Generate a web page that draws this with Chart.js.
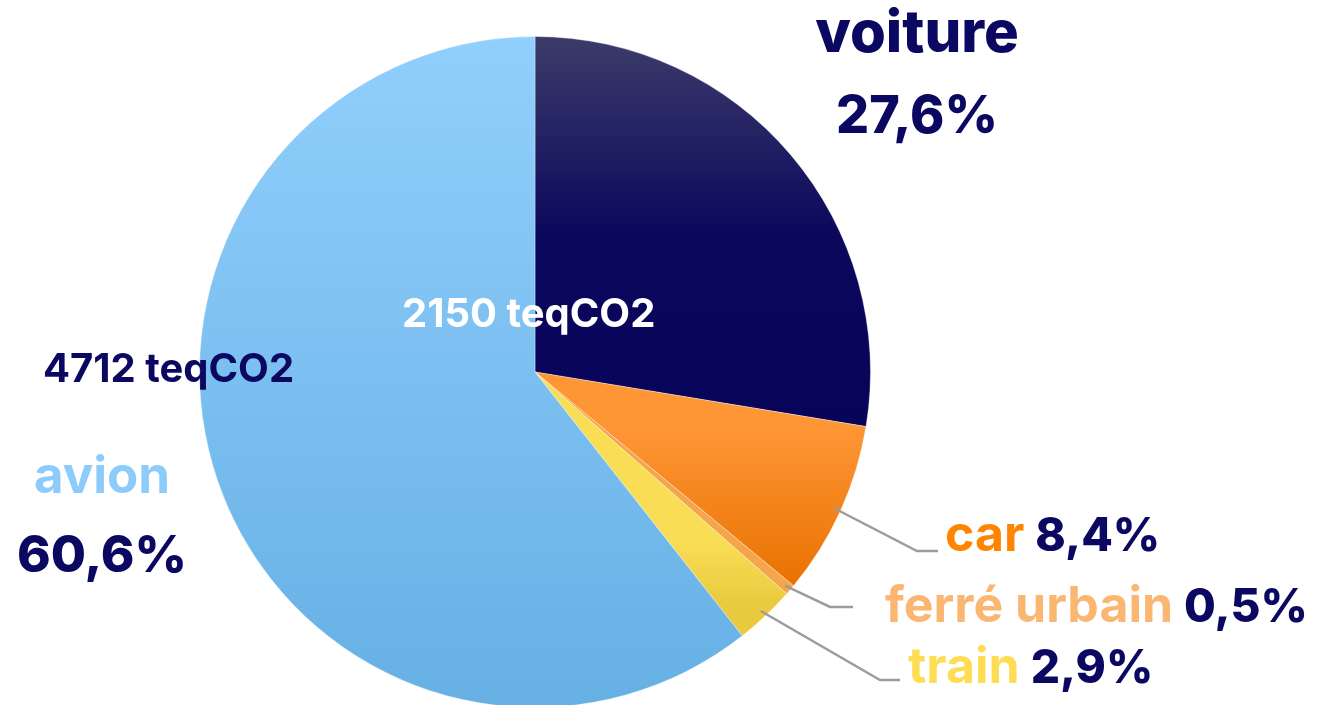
<!DOCTYPE html>
<html>
<head>
<meta charset="utf-8">
<script src="https://cdn.jsdelivr.net/npm/chart.js@4/dist/chart.umd.min.js"></script>
<style>
  html, body { margin: 0; padding: 0; background: #fff; overflow: hidden; }
  #wrap { width: 1317px; height: 720px; }
</style>
</head>
<body>
<div id="wrap"><canvas id="pie" width="1317" height="720"></canvas></div>
<script>
// Données : part des émissions par mode de transport
const categories = ['voiture', 'car', 'ferré urbain', 'train', 'avion'];
const shares = [27.6, 8.4, 0.5, 2.9, 60.6];
const shareLabels = ['27,6%', '8,4%', '0,5%', '2,9%', '60,6%'];
const emissions = [2150, null, null, null, 4712];

const navy = '#0a0860';
const FONT = 'Inter, "Open Sans", sans-serif';

// dégradés verticaux par part (positions relatives à la zone du graphique)
const gradStops = [
    [[0, '#3c3c6a'], [0.3, '#0a075c'], [1, '#020058']],
    [[0.58, '#ff9636'], [0.82, '#e87200']],
    [[0, '#f5a54c'], [1, '#f5a54c']],
    [[0.75, '#f9dd55'], [0.85, '#e9ca3e']],
    [[0, '#91cffd'], [1, '#66b0e4']]
];

function sliceColor(ctx) {
    const area = ctx.chart.chartArea;
    if (!area) return '#ccc';
    const g = ctx.chart.ctx.createLinearGradient(0, area.top, 0, area.bottom);
    gradStops[ctx.dataIndex].forEach(s => g.addColorStop(s[0], s[1]));
    return g;
}

// Étiquettes et lignes de rappel
const labelPlugin = {
    id: 'labels',
    afterDatasetsDraw(chart) {
        const c = chart.ctx;
        const arcs = chart.getDatasetMeta(0).data;
        c.save();
        c.textBaseline = 'alphabetic';

        // voiture
        c.textAlign = 'center';
        c.fillStyle = navy;
        c.font = '800 58px ' + FONT;
        c.fillText(categories[0], 917, 52);
        c.font = '800 52px ' + FONT;
        c.fillText(shareLabels[0], 917, 133);

        // avion
        c.fillStyle = '#8ccbfa';
        c.font = '700 51px ' + FONT;
        c.fillText(categories[4], 102, 493);
        c.fillStyle = navy;
        c.font = '800 51px ' + FONT;
        c.fillText(shareLabels[4], 102, 572);

        // valeurs en teqCO2
        c.font = '700 40px ' + FONT;
        c.textAlign = 'left';
        c.fillStyle = '#ffffff';
        c.fillText(emissions[0] + ' teqCO2', 402, 327);
        c.fillStyle = navy;
        c.fillText(emissions[4] + ' teqCO2', 43, 382);

        // petites parts avec lignes de rappel
        const small = [
            { i: 1, elbow: [917, 551], end: 938, tx: 945, ty: 551, color: '#ff8400' },
            { i: 2, elbow: [830, 607], end: 853, tx: 885, ty: 622, color: '#fbb672' },
            { i: 3, elbow: [880, 680], end: 900, tx: 908, ty: 683, color: '#fedd55' }
        ];
        small.forEach(s => {
            const a = arcs[s.i];
            const mid = (a.startAngle + a.endAngle) / 2;
            const r = a.outerRadius * 0.98;
            c.strokeStyle = '#9c9c9c';
            c.lineWidth = 2.5;
            c.beginPath();
            c.moveTo(a.x + Math.cos(mid) * r, a.y + Math.sin(mid) * r);
            c.lineTo(s.elbow[0], s.elbow[1]);
            c.lineTo(s.end, s.elbow[1]);
            c.stroke();

            c.font = '700 50px ' + FONT;
            c.fillStyle = s.color;
            c.fillText(categories[s.i], s.tx, s.ty);
            const w = c.measureText(categories[s.i]).width;
            c.font = '800 46px ' + FONT;
            c.fillStyle = navy;
            c.fillText(shareLabels[s.i], s.tx + w + 11, s.ty);
        });
        c.restore();
    }
};

new Chart(document.getElementById('pie'), {
    type: 'pie',
    data: {
        labels: categories,
        datasets: [{
            data: shares,
            backgroundColor: sliceColor,
            borderColor: 'rgba(255,255,255,0.35)',
            borderWidth: 1
        }]
    },
    options: {
        responsive: false,
        animation: false,
        layout: { padding: { left: 199, right: 446, top: 36, bottom: 12 } },
        plugins: {
            legend: { display: false },
            tooltip: { enabled: false }
        }
    },
    plugins: [labelPlugin]
});
</script>
</body>
</html>
